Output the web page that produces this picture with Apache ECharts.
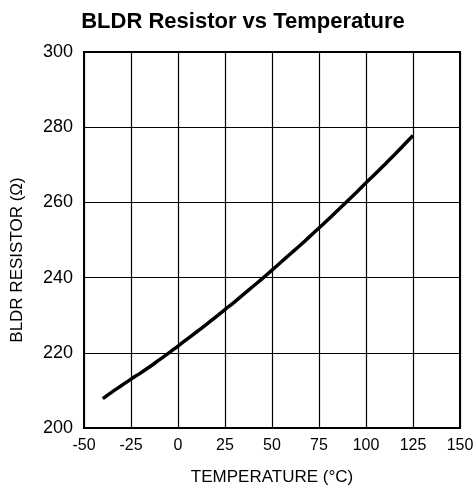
<!DOCTYPE html>
<html>
<head>
<meta charset="utf-8">
<script src="https://cdn.jsdelivr.net/npm/echarts@6/dist/echarts.min.js"></script>
<style>
  html, body { margin: 0; padding: 0; background: #fff; }
  #chart { width: 473px; height: 494px; }
</style>
</head>
<body>
<div id="chart"></div>
<script>
// every 5 °C
const temps = [-40, -35, -30, -25, -20, -15, -10, -5, 0, 5, 10, 15, 20, 25, 30, 35, 40,
  45, 50, 55, 60, 65, 70, 75, 80, 85, 90, 95, 100, 105, 110, 115, 120, 125]
const resistance = [207.8, 209.6, 211.3, 213.0, 214.6, 216.3, 218.1, 219.9, 221.8, 223.7,
  225.6, 227.5, 229.5, 231.5, 233.5, 235.6, 237.7, 239.8, 242.0, 244.2, 246.4, 248.6,
  250.9, 253.2, 255.5, 257.9, 260.3, 262.7, 265.2, 267.6, 270.1, 272.6, 275.2, 277.8]

const font = 'Liberation Sans, Arial, sans-serif'
const chart = echarts.init(document.getElementById('chart'))

chart.setOption({
  backgroundColor: '#fff',
  animation: false,
  title: {
    text: 'BLDR Resistor vs Temperature',
    left: 238,
    textAlign: 'center',
    top: 6,
    textStyle: { fontFamily: font, fontSize: 22, fontWeight: 'bold', color: '#000' },
  },
  // y name sits a bit below the plot middle in the reference, so it is placed by hand
  graphic: [
    {
      type: 'text',
      x: 17,
      y: 260,
      rotation: Math.PI / 2,
      style: {
        text: 'BLDR RESISTOR (Ω)',
        fontFamily: font,
        fontSize: 17,
        fill: '#000',
        textAlign: 'center',
        textVerticalAlign: 'middle',
      },
    },
  ],
  grid: {
    left: 84, right: 13, top: 52, bottom: 66,
    outerBoundsMode: 'none',
    show: true, borderColor: '#000', borderWidth: 2,
  },
  xAxis: {
    type: 'value',
    min: -50, max: 150, interval: 25,
    name: 'TEMPERATURE (°C)',
    nameLocation: 'middle',
    nameGap: 41,
    nameTextStyle: { fontFamily: font, fontSize: 17, color: '#000' },
    axisLine: { show: false },
    axisTick: { show: false },
    axisLabel: { fontFamily: font, fontSize: 16, color: '#000', margin: 10 },
    splitLine: { show: true, lineStyle: { color: '#000', width: 1.2 } },
  },
  yAxis: {
    type: 'value',
    min: 200, max: 300, interval: 20,
    axisLine: { show: false },
    axisTick: { show: false },
    axisLabel: { fontFamily: font, fontSize: 18, color: '#000', margin: 11 },
    splitLine: { show: true, lineStyle: { color: '#000', width: 1.2 } },
  },
  series: [
    {
      type: 'line',
      data: temps.map((t, i) => [t, resistance[i]]),
      smooth: true,
      symbol: 'none',
      lineStyle: { color: '#000', width: 3.5 },
    },
  ],
})
</script>
</body>
</html>
